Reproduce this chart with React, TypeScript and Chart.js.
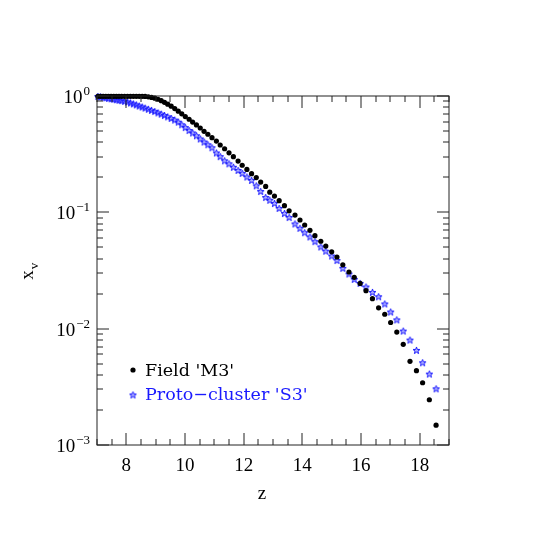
import React, { useEffect, useRef } from "react";
import { Chart, registerables } from "chart.js";

Chart.register(...registerables);

// ---- data ----
const zValues = [
  7.03, 7.12, 7.21, 7.3, 7.39, 7.48, 7.57, 7.66, 7.75, 7.84,
  7.94, 8.04, 8.14, 8.24, 8.34, 8.44, 8.54, 8.64, 8.75, 8.86,
  8.97, 9.08, 9.19, 9.3, 9.41, 9.53, 9.65, 9.77, 9.89, 10.01,
  10.14, 10.26, 10.39, 10.52, 10.65, 10.78, 10.92, 11.07, 11.2, 11.35,
  11.5, 11.65, 11.81, 11.95, 12.11, 12.27, 12.43, 12.58, 12.75, 12.89,
  13.05, 13.21, 13.39, 13.55, 13.75, 13.92, 14.08, 14.26, 14.43, 14.63,
  14.8, 15.0, 15.18, 15.38, 15.59, 15.77, 15.97, 16.17, 16.39, 16.6,
  16.81, 17.01, 17.22, 17.44, 17.67, 17.89, 18.1, 18.33, 18.56,
];

const fieldM3 = [
  0.993, 0.993, 0.993, 0.993, 0.993, 0.993, 0.993, 0.993, 0.993, 0.993,
  0.993, 0.993, 0.993, 0.993, 0.993, 0.993, 0.993, 0.991, 0.984, 0.973,
  0.957, 0.938, 0.912, 0.883, 0.851, 0.817, 0.78, 0.741, 0.703, 0.665,
  0.631, 0.597, 0.564, 0.531, 0.497, 0.469, 0.438, 0.41, 0.379, 0.352,
  0.325, 0.301, 0.276, 0.254, 0.234, 0.215, 0.199, 0.182, 0.167, 0.149,
  0.138, 0.126, 0.114, 0.103, 0.0948, 0.0859, 0.0778, 0.07, 0.063, 0.0564,
  0.0513, 0.0458, 0.0413, 0.0354, 0.0307, 0.0276, 0.0245, 0.0212, 0.0181, 0.0151,
  0.0133, 0.0113, 0.00935, 0.00733, 0.00524, 0.00435, 0.00343, 0.00245, 0.00148,
];

const protoS3 = [
  0.991, 0.982, 0.973, 0.964, 0.955, 0.946, 0.938, 0.929, 0.92, 0.912,
  0.9, 0.887, 0.871, 0.855, 0.838, 0.82, 0.804, 0.787, 0.769, 0.752,
  0.735, 0.716, 0.698, 0.679, 0.661, 0.641, 0.621, 0.596, 0.566, 0.535,
  0.505, 0.481, 0.455, 0.427, 0.402, 0.381, 0.359, 0.324, 0.301, 0.277,
  0.261, 0.244, 0.229, 0.216, 0.201, 0.188, 0.169, 0.151, 0.134, 0.127,
  0.119, 0.108, 0.0977, 0.0902, 0.0794, 0.0728, 0.0668, 0.0614, 0.056, 0.0504,
  0.0463, 0.0421, 0.0385, 0.033, 0.0295, 0.0265, 0.0245, 0.0228, 0.0205, 0.0188,
  0.0163, 0.0139, 0.0119, 0.00953, 0.00798, 0.0065, 0.00509, 0.00407, 0.00304,
];

const seriesLabels = ["Field 'M3'", "Proto\u2212cluster 'S3'"];
const xTickLabels = [8, 10, 12, 14, 16, 18];
const yDecades = [1, 0.1, 0.01, 0.001];
const yExponents = ["0", "\u22121", "\u22122", "\u22123"];
const xTitle = "z";
const yTitle = "x";
const yTitleSub = "v";

const X_MIN = 7;
const X_MAX = 19;
const Y_MIN = 0.001;
const Y_MAX = 1;

const BLUE = "#1a1aff";
const FONT = "'Liberation Serif', 'DejaVu Serif', serif";
const LEGEND_FONT = "'DejaVu Serif', serif";

function makeStar(color: string): HTMLCanvasElement {
  const c = document.createElement("canvas");
  c.width = 9;
  c.height = 9;
  const g = c.getContext("2d")!;
  g.strokeStyle = color;
  g.fillStyle = "rgba(26,26,255,0.35)";
  g.lineWidth = 1;
  g.beginPath();
  const cx = 4.5, cy = 4.7, ro = 3.6, ri = 1.5;
  for (let k = 0; k < 10; k++) {
    const r = k % 2 === 0 ? ro : ri;
    const a = -Math.PI / 2 + (k * Math.PI) / 5;
    const px = cx + r * Math.cos(a);
    const py = cy + r * Math.sin(a);
    if (k === 0) g.moveTo(px, py);
    else g.lineTo(px, py);
  }
  g.closePath();
  g.fill();
  g.stroke();
  return c;
}

export default function App() {
  const ref = useRef<HTMLCanvasElement>(null);

  useEffect(() => {
    if (!ref.current) return;
    const star = makeStar(BLUE);

    const framePlugin = {
      id: "pgframe",
      afterDraw(chart: any) {
        const { ctx, chartArea, scales } = chart;
        const { left, right, top, bottom } = chartArea;
        const xs = scales.x;
        const ys = scales.y;
        ctx.save();
        ctx.strokeStyle = "#222";
        ctx.lineWidth = 1;
        ctx.strokeRect(left, top, right - left, bottom - top);

        const MAJ = 12;
        const MIN = 6;
        ctx.beginPath();
        // x ticks every 0.5
        for (let i = X_MIN * 2; i <= X_MAX * 2; i++) {
          const v = i / 2;
          const px = Math.round(xs.getPixelForValue(v));
          const len = xTickLabels.includes(v) ? MAJ : MIN;
          ctx.moveTo(px, bottom);
          ctx.lineTo(px, bottom - len);
          ctx.moveTo(px, top);
          ctx.lineTo(px, top + len);
        }
        // y ticks
        for (const d of yDecades) {
          for (let m = 1; m <= 9; m++) {
            const v = m * d;
            if (v > Y_MAX + 1e-9) break;
            const py = Math.round(ys.getPixelForValue(v));
            const len = m === 1 ? MAJ : MIN;
            ctx.moveTo(left, py);
            ctx.lineTo(left + len, py);
            ctx.moveTo(right, py);
            ctx.lineTo(right - len, py);
          }
        }
        ctx.stroke();

        ctx.fillStyle = "#000";
        // x tick labels
        ctx.font = `19px ${FONT}`;
        ctx.textAlign = "center";
        ctx.textBaseline = "alphabetic";
        for (const v of xTickLabels) {
          ctx.fillText(String(v), xs.getPixelForValue(v), 471);
        }
        // y tick labels 10^n
        yDecades.forEach((d, i) => {
          const py = ys.getPixelForValue(d);
          ctx.font = `13px ${FONT}`;
          const ew = ctx.measureText(yExponents[i]).width;
          const rightEdge = 90;
          ctx.textAlign = "left";
          ctx.fillText(yExponents[i], rightEdge - ew, py - 1);
          ctx.font = `19px ${FONT}`;
          ctx.textAlign = "right";
          ctx.fillText("10", rightEdge - ew - 1, py + 7);
        });

        // x title
        ctx.font = `19px ${FONT}`;
        ctx.textAlign = "center";
        ctx.fillText(xTitle, 262, 499);

        // y title (rotated)
        ctx.save();
        ctx.translate(33, 272);
        ctx.rotate(-Math.PI / 2);
        ctx.textAlign = "left";
        ctx.font = `19px ${FONT}`;
        const xw = ctx.measureText(yTitle).width;
        ctx.fillText(yTitle, -xw / 2 - 3, 0);
        ctx.font = `13px ${FONT}`;
        ctx.fillText(yTitleSub, xw / 2 - 2, 5);
        ctx.restore();

        // legend
        ctx.fillStyle = "#000";
        ctx.beginPath();
        ctx.arc(133, 370, 2.6, 0, Math.PI * 2);
        ctx.fill();
        ctx.font = `17.5px ${LEGEND_FONT}`;
        ctx.textAlign = "left";
        ctx.textBaseline = "alphabetic";
        ctx.fillText(seriesLabels[0], 145, 376);
        ctx.drawImage(star, 133 - 4.5, 395 - 4.5);
        ctx.fillStyle = BLUE;
        ctx.fillText(seriesLabels[1], 145, 400);

        ctx.restore();
      },
    };

    const chart = new Chart(ref.current, {
      type: "scatter",
      data: {
        datasets: [
          {
            label: seriesLabels[0],
            data: zValues.map((z, i) => ({ x: z, y: fieldM3[i] })),
            pointStyle: "circle",
            pointRadius: 2.6,
            pointBackgroundColor: "#000",
            pointBorderColor: "#000",
            pointBorderWidth: 0,
            showLine: false,
            clip: false as any,
          },
          {
            label: seriesLabels[1],
            data: zValues.map((z, i) => ({ x: z, y: protoS3[i] })),
            pointStyle: star as any,
            pointRadius: 4,
            showLine: false,
            clip: false as any,
          },
        ],
      },
      options: {
        animation: false,
        responsive: false,
        events: [],
        layout: { padding: { left: 97, right: 96, top: 96, bottom: 100 } },
        scales: {
          x: { type: "linear", min: X_MIN, max: X_MAX, display: false },
          y: { type: "logarithmic", min: Y_MIN, max: Y_MAX, display: false },
        },
        plugins: {
          legend: { display: false },
          tooltip: { enabled: false },
          title: { display: false },
        },
      },
      plugins: [framePlugin],
    });

    return () => chart.destroy();
  }, []);

  return (
    <div
      style={{
        position: "fixed",
        left: 0,
        top: 0,
        width: 545,
        height: 545,
        background: "#fff",
      }}
    >
      <canvas
        ref={ref}
        width={545}
        height={545}
        style={{ width: 545, height: 545, display: "block" }}
      />
    </div>
  );
}
